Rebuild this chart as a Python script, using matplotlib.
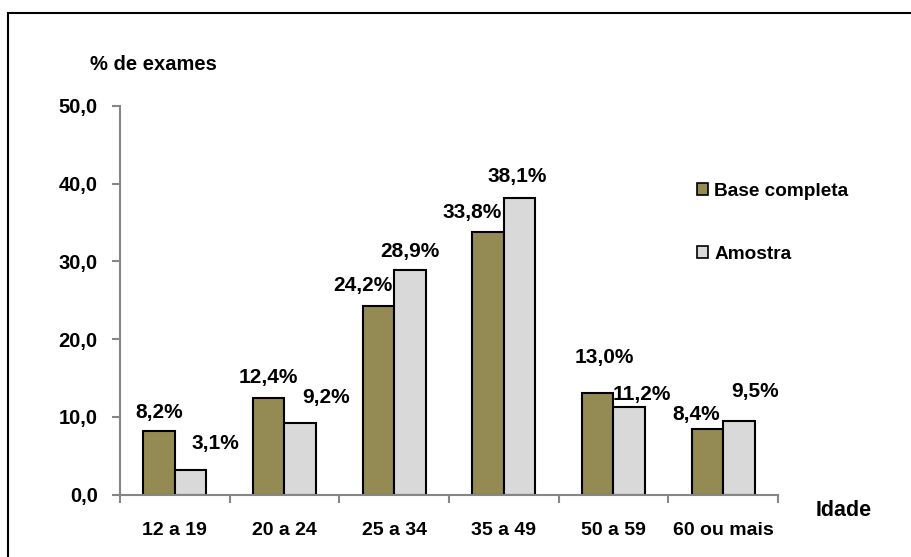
import numpy as np
import matplotlib
matplotlib.use("Agg")
import matplotlib.pyplot as plt
from matplotlib.patches import Patch, Rectangle

plt.rcParams['font.family'] = ['Liberation Sans', 'DejaVu Sans']
plt.rcParams['font.weight'] = 'bold'

faixas = ['12 a 19', '20 a 24', '25 a 34', '35 a 49', '50 a 59', '60 ou mais']
base_completa = [8.2, 12.4, 24.2, 33.8, 13.0, 8.4]
amostra = [3.1, 9.2, 28.9, 38.1, 11.2, 9.5]
yticks = [0, 10, 20, 30, 40, 50]

# deslocamento dos rotulos (pixels) em relacao ao topo de cada barra
desl_base = [(0, 18), (0, 21), (-16, 21), (-16, 19), (7, 36), (-11, 15)]
desl_amostra = [(25, 27), (26, 26), (0, 18), (-2, 22), (13, 13), (16, 29)]

cor_base = '#948A54'
cor_amostra = '#D9D9D9'
cinza = '#868686'

fig = plt.figure(figsize=(9.11, 5.57), dpi=100)
ax = fig.add_axes([120/911, 1-494.5/557, 658/911, 388.5/557])

x = np.arange(len(faixas))
w = 0.287
b1 = ax.bar(x - w/2, base_completa, w, color=cor_base, edgecolor='black', linewidth=1.5)
b2 = ax.bar(x + w/2, amostra, w, color=cor_amostra, edgecolor='black', linewidth=1.5)

def rotula(barras, valores, desl):
    for r, v, (dx, dy) in zip(barras, valores, desl):
        ax.annotate(f'{v:.1f}%'.replace('.', ','),
                    (r.get_x() + r.get_width()/2, r.get_height()),
                    xytext=(dx, dy), textcoords='offset pixels',
                    ha='center', va='center', fontsize=15, fontweight='bold')

rotula(b1, base_completa, desl_base)
rotula(b2, amostra, desl_amostra)

ax.set_xlim(-0.5, len(faixas) - 0.5)
ax.set_ylim(0, 50)
ax.set_yticks(yticks)
ax.set_yticklabels([f'{v:.1f}'.replace('.', ',') for v in yticks], fontsize=14.5, fontweight='bold')
ax.set_xticks(np.arange(len(faixas) + 1) - 0.5)
ax.set_xticklabels([])
ax.set_xticks(x, minor=True)
ax.set_xticklabels(faixas, minor=True, fontsize=14, fontweight='bold')
ax.tick_params(axis='x', which='minor', length=0, pad=20)
ax.tick_params(axis='x', which='major', length=6, width=1.5, color=cinza, direction='out')
ax.tick_params(axis='y', length=6, width=1.5, color=cinza, direction='out', pad=10)

for s in ['top', 'right']:
    ax.spines[s].set_visible(False)
for s in ['left', 'bottom']:
    ax.spines[s].set_color(cinza)
    ax.spines[s].set_linewidth(1.5)

fig.text(153/911, 1-65/557, '% de exames', ha='center', va='center', fontsize=14.5, fontweight='bold')
fig.text(844/911, 1-510/557, 'Idade', ha='center', va='center', fontsize=15.5, fontweight='bold')

handles = [Patch(facecolor=cor_base, edgecolor='black', linewidth=1.2),
           Patch(facecolor=cor_amostra, edgecolor='black', linewidth=1.2)]
fig.legend(handles, ['Base completa', 'Amostra'], loc='upper left',
           bbox_to_anchor=(697/911, 1-183/557), frameon=False,
           prop={'size': 13.7, 'weight': 'bold'}, handlelength=0.6, handleheight=0.6,
           handletextpad=0.3, labelspacing=2.4, borderpad=0, borderaxespad=0)

fig.patches.append(Rectangle((8/911, -0.1), 1.2, 1-13/557+0.1, fill=False,
                             edgecolor='black', linewidth=1.5,
                             transform=fig.transFigure, clip_on=False))

fig.savefig('out.png', dpi=100)
